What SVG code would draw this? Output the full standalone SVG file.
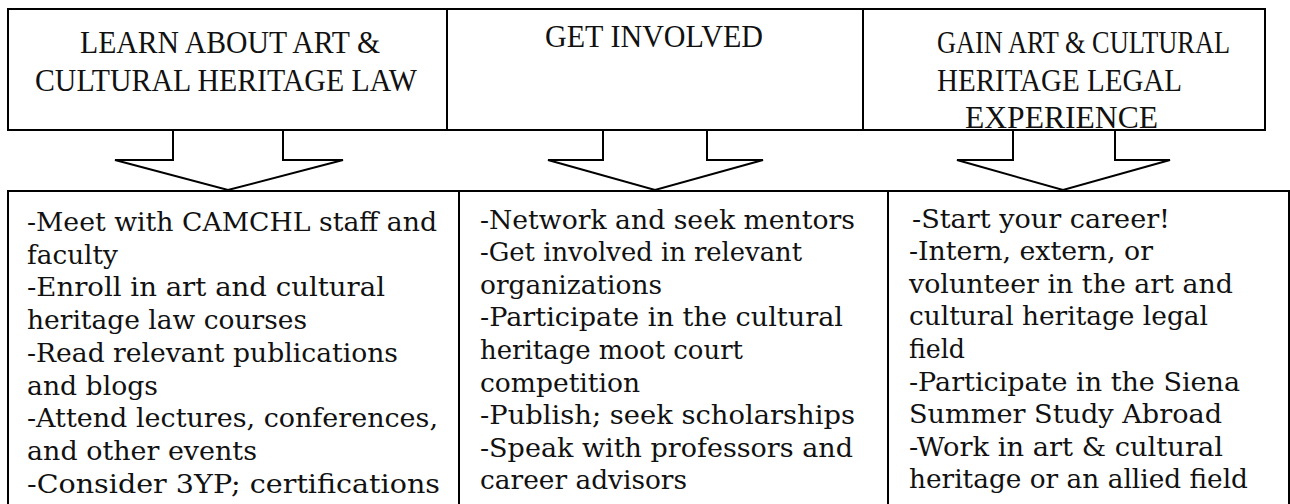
<svg xmlns="http://www.w3.org/2000/svg" width="1290" height="504" viewBox="0 0 1290 504">
<style>
.box{fill:#fff;stroke:#000;stroke-width:2}
.arr{fill:#fff;stroke:#000;stroke-width:2;stroke-linejoin:miter}
.h{font-family:"Liberation Serif","DejaVu Serif",serif;font-size:31px;fill:#111}
.t{font-family:"DejaVu Serif","Liberation Serif",serif;font-size:26.5px;fill:#111}
</style>
<rect width="1290" height="504" fill="#fff"/>
<g id="list1">
<rect class="box" x="8" y="191" width="451" height="340"/>
<text class="t" x="27" y="231" textLength="410" lengthAdjust="spacingAndGlyphs">-Meet with CAMCHL staff and</text>
<text class="t" x="27" y="263.7" textLength="91" lengthAdjust="spacingAndGlyphs">faculty</text>
<text class="t" x="27" y="296.4" textLength="358" lengthAdjust="spacingAndGlyphs">-Enroll in art and cultural</text>
<text class="t" x="27" y="329.1" textLength="280" lengthAdjust="spacingAndGlyphs">heritage law courses</text>
<text class="t" x="27" y="361.8" textLength="371" lengthAdjust="spacingAndGlyphs">-Read relevant publications</text>
<text class="t" x="27" y="394.5" textLength="131" lengthAdjust="spacingAndGlyphs">and blogs</text>
<text class="t" x="27" y="427.2" textLength="411" lengthAdjust="spacingAndGlyphs">-Attend lectures, conferences,</text>
<text class="t" x="27" y="459.9" textLength="230" lengthAdjust="spacingAndGlyphs">and other events</text>
<text class="t" x="27" y="492.6" textLength="413" lengthAdjust="spacingAndGlyphs">-Consider 3YP; certifications</text>
</g>
<g id="list2">
<rect class="box" x="459" y="191" width="429" height="340"/>
<text class="t" x="480" y="228.5" textLength="375" lengthAdjust="spacingAndGlyphs">-Network and seek mentors</text>
<text class="t" x="480" y="261.1" textLength="322" lengthAdjust="spacingAndGlyphs">-Get involved in relevant</text>
<text class="t" x="480" y="293.7" textLength="182" lengthAdjust="spacingAndGlyphs">organizations</text>
<text class="t" x="480" y="326.3" textLength="363" lengthAdjust="spacingAndGlyphs">-Participate in the cultural</text>
<text class="t" x="480" y="358.9" textLength="263" lengthAdjust="spacingAndGlyphs">heritage moot court</text>
<text class="t" x="480" y="391.5" textLength="160" lengthAdjust="spacingAndGlyphs">competition</text>
<text class="t" x="480" y="424.1" textLength="375" lengthAdjust="spacingAndGlyphs">-Publish; seek scholarships</text>
<text class="t" x="480" y="456.7" textLength="373" lengthAdjust="spacingAndGlyphs">-Speak with professors and</text>
<text class="t" x="480" y="489.3" textLength="207" lengthAdjust="spacingAndGlyphs">career advisors</text>
</g>
<g id="list3">
<rect class="box" x="888" y="191" width="401" height="340"/>
<text class="t" x="912" y="227.5" textLength="258" lengthAdjust="spacingAndGlyphs">-Start your career!</text>
<text class="t" x="909" y="260.1" textLength="244" lengthAdjust="spacingAndGlyphs">-Intern, extern, or</text>
<text class="t" x="909" y="292.7" textLength="324" lengthAdjust="spacingAndGlyphs">volunteer in the art and</text>
<text class="t" x="909" y="325.3" textLength="299" lengthAdjust="spacingAndGlyphs">cultural heritage legal</text>
<text class="t" x="909" y="357.9" textLength="56" lengthAdjust="spacingAndGlyphs">field</text>
<text class="t" x="909" y="390.5" textLength="331" lengthAdjust="spacingAndGlyphs">-Participate in the Siena</text>
<text class="t" x="909" y="423.1" textLength="313" lengthAdjust="spacingAndGlyphs">Summer Study Abroad</text>
<text class="t" x="909" y="455.7" textLength="314" lengthAdjust="spacingAndGlyphs">-Work in art &amp; cultural</text>
<text class="t" x="909" y="488.3" textLength="339" lengthAdjust="spacingAndGlyphs">heritage or an allied field</text>
</g>
<g id="connectors">
<polygon class="arr" points="173,130 283,130 283,160 343,160 228,190 115,160 173,160"/>
<polygon class="arr" points="603,130 707,130 707,160 763,160 655,190 548,160 603,160"/>
<polygon class="arr" points="1013,130 1115,130 1115,160 1170,160 1063,190 957,160 1013,160"/>
</g>
<g id="header1">
<rect class="box" x="8" y="9" width="439" height="121"/>
<text class="h" x="80" y="53" textLength="300" lengthAdjust="spacingAndGlyphs">LEARN ABOUT ART &amp;</text>
<text class="h" x="35" y="91" textLength="382" lengthAdjust="spacingAndGlyphs">CULTURAL HERITAGE LAW</text>
</g>
<g id="header2">
<rect class="box" x="447" y="9" width="416" height="121"/>
<text class="h" x="545" y="47" textLength="218" lengthAdjust="spacingAndGlyphs">GET INVOLVED</text>
</g>
<g id="header3">
<rect class="box" x="863" y="9" width="402" height="121"/>
<text class="h" x="937" y="53" textLength="293" lengthAdjust="spacingAndGlyphs">GAIN ART &amp; CULTURAL</text>
<text class="h" x="937" y="91" textLength="245" lengthAdjust="spacingAndGlyphs">HERITAGE LEGAL</text>
<text class="h" x="965" y="128" textLength="193" lengthAdjust="spacingAndGlyphs">EXPERIENCE</text>
</g>
</svg>
